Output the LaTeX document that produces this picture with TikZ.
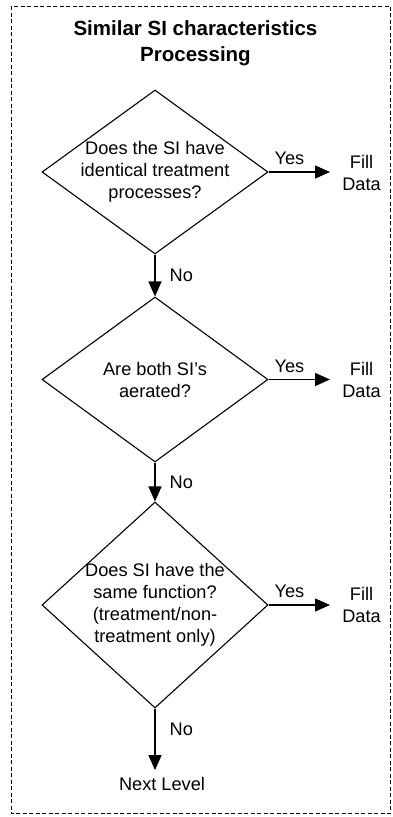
\documentclass[tikz,border=0pt]{standalone}
\usepackage{fontspec}
\setmainfont{Liberation Sans}
\usetikzlibrary{shapes.geometric,arrows.meta}
\begin{document}
\begin{tikzpicture}[x=1pt,y=-1pt,
  dia/.style={draw,line width=1.1pt,shape=diamond,inner sep=0pt,minimum width=226pt},
  qtext/.style={align=center,inner sep=0pt,font=\fontsize{18.2}{22}\selectfont},
  filltext/.style={align=center,inner sep=0pt,font=\fontsize{18.2}{22}\selectfont},
  lbl/.style={inner sep=0pt,font=\fontsize{18.2}{22}\selectfont},
  arr/.style={line width=1.3pt,-{Triangle[length=15pt,width=13pt]}},
  ttl/.style={align=center,inner sep=0pt,font=\fontsize{20.5}{25.7}\selectfont\bfseries}
]
\useasboundingbox (0,0) rectangle (392,817);
\draw[line width=1pt,dash pattern=on 4pt off 2.5pt] (11,6) rectangle (390.5,813);

\node[ttl] (title) at (195.5,43.5) {Similar SI characteristics\\Processing};

\node[dia,minimum height=164pt] (d1) at (155,172) {};
\node[qtext] (t1) at (d1.center) {Does the SI have\\identical treatment\\processes?};
\node[dia,minimum height=165pt] (d2) at (155,379.5) {};
\node[qtext] (t2) at (d2.center) {Are both SI’s\\aerated?};
\node[dia,minimum height=206pt] (d3) at (155,605) {};
\node[qtext] (t3) at (d3.center) {Does SI have the\\same function?\\(treatment/non-\\treatment only)};

\node[filltext] (f1) at (361.5,173) {Fill\\Data};
\node[filltext] (f2) at (361.5,379.5) {Fill\\Data};
\node[filltext] (f3) at (361.5,605) {Fill\\Data};
\node[lbl,inner ysep=7pt] (nl) at (162,784) {Next Level};

\coordinate (e1) at (330,0);
\draw[arr] (d1.east) -- (d1.east -| e1) node[lbl,pos=0.34,anchor=base,yshift=7.5pt] (y1) {Yes};
\draw[arr] (d2.east) -- (d2.east -| e1) node[lbl,pos=0.34,anchor=base,yshift=7.5pt] (y2) {Yes};
\draw[arr] (d3.east) -- (d3.east -| e1) node[lbl,pos=0.34,anchor=base,yshift=7.5pt] (y3) {Yes};

\draw[arr] (d1.south) -- (d2.north) node[lbl,midway,anchor=west,xshift=14pt] (n1) {No};
\draw[arr] (d2.south) -- (d3.north) node[lbl,midway,anchor=west,xshift=14pt] (n2) {No};
\draw[arr] (d3.south) -- (d3.south |- nl.north) node[lbl,pos=0.34,anchor=west,xshift=14pt] (n3) {No};
\end{tikzpicture}
\end{document}
